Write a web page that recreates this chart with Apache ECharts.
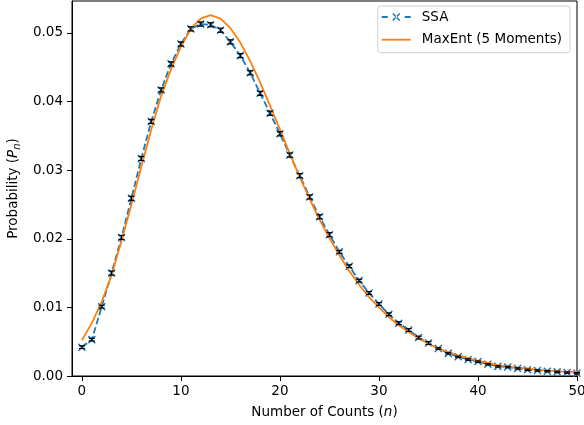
<!DOCTYPE html>
<html>
<head>
<meta charset="utf-8">
<script src="https://cdn.jsdelivr.net/npm/echarts@6/dist/echarts.min.js"></script>
<style>html,body{margin:0;padding:0;background:#fff}#c{width:584px;height:425px}</style>
</head>
<body>
<div id="c"></div>
<script>
var counts = [];
for (var i = 0; i <= 50; i++) counts.push(i);
var ssaValues = [0.0042,0.0053,0.0101,0.0150,0.0202,0.0259,0.0317,0.0371,0.0417,0.0455,0.0484,0.0506,0.0513,0.0512,0.0504,0.0487,0.0467,0.0442,0.0412,0.0383,
  0.0353,0.0322,0.0292,0.0261,0.0232,0.0206,0.0181,0.0160,0.0139,0.0121,0.0105,0.0090,0.0077,0.0067,0.0056,0.0048,0.0040,0.0033,0.0028,0.0024,
  0.0021,0.0017,0.0014,0.0013,0.0011,0.0009,0.0008,0.0007,0.0006,0.0005,0.0004];
var ssaErrors = [0.0002,0.0002,0.0002,0.0003,0.0003,0.0003,0.0003,0.0003,0.0003,0.0003,0.0003,0.0003,0.0003,0.0003,0.0003,0.0003,0.0003,0.0003,0.0003,0.0003,
  0.0003,0.0003,0.0003,0.0003,0.0003,0.0003,0.0002,0.0002,0.0002,0.0002,0.0002,0.0002,0.0002,0.0002,0.0002,0.0002,0.0001,0.0001,0.0001,0.0001,
  0.0001,0.0001,0.0001,0.0001,0.0001,0.0001,0.0001,0.0001,0.0001,0.0001,0.0001];
var maxEntValues = [0.0052,0.0077,0.0108,0.0147,0.0197,0.0250,0.0305,0.0359,0.0408,0.0447,0.0480,0.0506,0.0521,0.0526,0.0521,0.0507,0.0486,0.0459,0.0428,0.0394,
  0.0359,0.0324,0.0290,0.0258,0.0228,0.0201,0.0176,0.0153,0.0133,0.0115,0.0100,0.0086,0.0074,0.0064,0.0055,0.0047,0.0040,0.0035,0.0030,0.0026,
  0.0022,0.0019,0.0016,0.0014,0.0012,0.0011,0.0009,0.0008,0.0007,0.0006,0.0006];
var xTicks = [0,10,20,30,40,50];
var yTicks = [0,0.01,0.02,0.03,0.04,0.05];

var FONT = 'DejaVu Sans';
var FS = 13.5;
var chart = echarts.init(document.getElementById('c'), null, {renderer:'canvas'});
var ssaData = counts.map(function(n,i){return [n, ssaValues[i]];});
var errData = counts.map(function(n,i){return [n, ssaValues[i]-ssaErrors[i], ssaValues[i]+ssaErrors[i]];});
var maxEntData = counts.map(function(n,i){return [n, maxEntValues[i]];});

var axisCommon = {
  axisLine:{show:true,onZero:false,lineStyle:{color:'#000',width:1}},
  axisTick:{show:true,inside:false,length:5,lineStyle:{color:'#000',width:1}},
  axisLabel:{color:'#000',fontFamily:FONT,fontSize:FS},
  splitLine:{show:false}
};

var ssaIcon = 'path://M0,6.1L6,6.1L6,7.9L0,7.9Z' +
  'M23,6.1L29,6.1L29,7.9L23,7.9Z' +
  'M11.53,2.97L18.53,9.97L17.47,11.03L10.47,4.03Z' +
  'M11.53,11.03L18.53,4.03L17.47,2.97L10.47,9.97Z';
var maxEntIcon = 'path://M0,6.1L29,6.1L29,7.9L0,7.9Z';

chart.setOption({
  animation:false,
  backgroundColor:'#fff',
  grid:{left:72,right:7,top:1,bottom:49,show:true,borderColor:'#000',borderWidth:1,backgroundColor:'transparent',
        containLabel:false, outerBoundsMode:'none'},
  xAxis:Object.assign({}, axisCommon, {
    type:'value', min:-1, max:50,
    axisTick:Object.assign({}, axisCommon.axisTick, {customValues:xTicks}),
    axisLabel:Object.assign({}, axisCommon.axisLabel, {customValues:xTicks, margin:8}),
    name:'{a|Number of Counts (}{i|n}{a|)}', nameLocation:'middle', nameGap:29,
    nameTextStyle:{rich:{a:{fontFamily:FONT,fontSize:FS,color:'#000'},i:{fontFamily:FONT,fontSize:FS,fontStyle:'italic',color:'#000'}}}
  }),
  yAxis:Object.assign({}, axisCommon, {
    type:'value', min:0, max:0.05466,
    axisTick:Object.assign({}, axisCommon.axisTick, {customValues:yTicks}),
    axisLabel:Object.assign({}, axisCommon.axisLabel, {customValues:yTicks, margin:9, formatter:function(v){return v.toFixed(2);}}),
    name:'{a|Probability (}{i|P}{s|n}{a|)}', nameLocation:'middle', nameGap:50,
    nameTextStyle:{rich:{a:{fontFamily:FONT,fontSize:FS,color:'#000'},i:{fontFamily:FONT,fontSize:FS,fontStyle:'italic',color:'#000'},s:{fontFamily:FONT,fontSize:10,fontStyle:'italic',color:'#000',padding:[7,0,0,0]}}}
  }),
  legend:{
    right:14, top:6, orient:'vertical', itemGap:8.7, itemWidth:29, itemHeight:14,
    padding:[4,8,6,4], borderColor:'#d0d0d0', borderWidth:1, borderRadius:3, backgroundColor:'rgba(255,255,255,0.8)',
    textStyle:{fontFamily:FONT,fontSize:FS,color:'#000',padding:[0,0,0,6]},
    data:[
      {name:'SSA', icon:ssaIcon, itemStyle:{color:'#1f77b4',borderWidth:0}},
      {name:'MaxEnt (5 Moments)', icon:maxEntIcon, itemStyle:{color:'#ff7f0e',borderWidth:0}}
    ]
  },
  series:[
    {name:'SSA', type:'line', data:ssaData, z:3,
     lineStyle:{color:'#1f77b4',width:1.8,type:[6.5,3]},
     symbol:'path://M0,0L10,10M10,0L0,10', symbolSize:7, showSymbol:true,
     itemStyle:{color:'#1f77b4',borderColor:'#1f77b4',borderWidth:1.5}},
    {name:'MaxEnt (5 Moments)', type:'line', data:maxEntData, z:4, showSymbol:false, symbol:'none',
     lineStyle:{color:'#ff7f0e',width:1.8}, itemStyle:{color:'#ff7f0e'}},
    {name:'err', type:'custom', data:errData, z:5,
     renderItem:function(params, api){
       var x = api.value(0);
       var lo = api.coord([x, api.value(1)]);
       var hi = api.coord([x, api.value(2)]);
       var cw = 3;
       var st = {stroke:'#000', lineWidth:1.2};
       return {type:'group', children:[
         {type:'line', shape:{x1:lo[0],y1:lo[1],x2:hi[0],y2:hi[1]}, style:st},
         {type:'line', shape:{x1:lo[0]-cw,y1:lo[1],x2:lo[0]+cw,y2:lo[1]}, style:st},
         {type:'line', shape:{x1:hi[0]-cw,y1:hi[1],x2:hi[0]+cw,y2:hi[1]}, style:st}
       ]};
     }}
  ]
});
</script>
</body>
</html>
